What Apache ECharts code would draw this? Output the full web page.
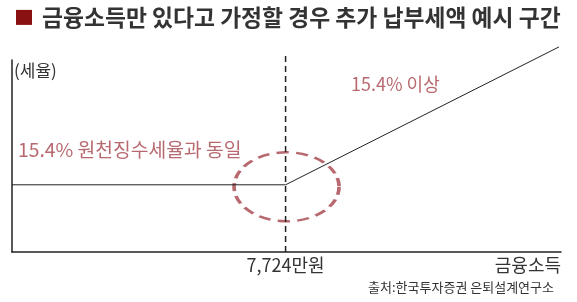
<!DOCTYPE html>
<html>
<head>
<meta charset="utf-8">
<script src="https://cdn.jsdelivr.net/npm/echarts@6/dist/echarts.min.js"></script>
<style>
html,body{margin:0;padding:0;background:#fff;}
#c{width:577px;height:302px;}
</style>
</head>
<body>
<div id="c"></div>
<script>
// ---- data ----
const titleText = '금융소득만 있다고 가정할 경우 추가 납부세액 예시 구간';
const sourceText = '출처:한국투자증권 은퇴설계연구소';
const xName = '금융소득';
const yName = '(세율)';
const breakpoint = 7724;              // 만원
const tickValues = [7724];
const tickLabels = ['7,724만원'];
const baseRate = 15.4;
const taxX = [0, 7724, 15443];
const taxY = [15.4, 15.4, 47];
const dividerY = [0, 45.1];
const annoText = ['15.4% 원천징수세율과 동일', '15.4% 이상'];
const annoX = [169, 9571];
const annoY = [23.4, 38.4];
const xMax = 15500;
const yMax = 44;

const FONT = '"Noto Sans CJK KR", "Noto Sans", sans-serif';
const RED = '#a5434b';
const INK = '#222';
const annoSizes = [19.3, 18];

const chart = echarts.init(document.getElementById('c'), null, {renderer: 'canvas'});
chart.setOption({
  animation: false,
  backgroundColor: '#fff',
  textStyle: {fontFamily: FONT},
  title: [
    {
      left: 11, top: 1,
      text: '{sq|}{t|' + titleText + '}',
      textStyle: {
        rich: {
          sq: {width: 16, height: 15, backgroundColor: '#8a1111'},
          t: {fontSize: 22.8, color: '#333', fontFamily: FONT, padding: [0, 0, 0, 10]}
        }
      }
    },
    {
      right: 18, bottom: 3,
      text: sourceText,
      textStyle: {fontSize: 13, fontWeight: 'normal', color: '#333', fontFamily: FONT}
    }
  ],
  grid: {left: 12, right: 16, top: 60, bottom: 50, containLabel: false},
  xAxis: {
    type: 'value', min: 0, max: xMax,
    axisLine: {show: true, lineStyle: {color: INK, width: 1.5}},
    axisTick: {show: false},
    splitLine: {show: false},
    axisLabel: {
      customValues: tickValues,
      formatter: function (v) { const i = tickValues.indexOf(v); return i >= 0 ? tickLabels[i] : ''; },
      fontSize: 18, color: '#333', margin: 4, fontFamily: FONT
    },
    name: xName, nameLocation: 'end', nameGap: 0,
    nameTextStyle: {align: 'right', verticalAlign: 'top', padding: [4, 0, 0, 0], fontSize: 18, color: '#333', fontFamily: FONT}
  },
  yAxis: {
    type: 'value', min: 0, max: yMax,
    axisLine: {show: true, lineStyle: {color: INK, width: 1.5}},
    axisTick: {show: false},
    splitLine: {show: false},
    axisLabel: {show: false},
    name: yName, nameLocation: 'end', nameGap: -2,
    nameTextStyle: {align: 'left', verticalAlign: 'top', padding: [0, 0, 0, 2], fontSize: 17, color: '#333', fontFamily: FONT}
  },
  series: [
    {
      type: 'line', clip: false, symbol: 'none', silent: true,
      data: taxX.map((x, i) => [x, taxY[i]]),
      lineStyle: {color: INK, width: 1}
    },
    {
      type: 'line', clip: false, symbol: 'none', silent: true,
      data: dividerY.map(y => [breakpoint, y]),
      lineStyle: {color: INK, width: 1.5, type: [6, 4]}
    },
    {
      type: 'scatter', silent: true, clip: false,
      data: [[breakpoint, baseRate]],
      symbol: 'circle', symbolSize: [105, 69], symbolOffset: [1, 2],
      itemStyle: {color: 'rgba(0,0,0,0)', borderColor: RED, borderWidth: 3, borderType: [10, 6]},
      z: 1
    },
    {
      type: 'scatter', silent: true, clip: false,
      symbolSize: 0,
      data: annoText.map((t, i) => ({
        value: [annoX[i], annoY[i]], name: t,
        label: {fontSize: annoSizes[i]}
      })),
      label: {
        show: true, position: 'right', distance: 0,
        formatter: p => p.name,
        fontSize: 18, color: RED, fontFamily: FONT
      }
    }
  ]
});
</script>
</body>
</html>
